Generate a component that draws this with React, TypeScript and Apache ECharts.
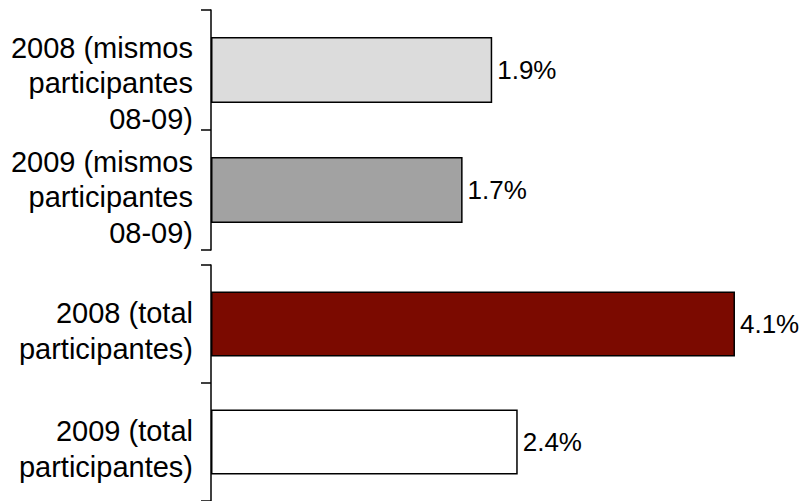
import React, { useEffect, useRef } from "react";
import * as echarts from "echarts";

const topCategories = [
  "2008 (mismos\nparticipantes\n08-09)",
  "2009 (mismos\nparticipantes\n08-09)",
];
const topValues = [1.9, 1.7];
const topColors = ["#DCDCDC", "#A2A2A2"];

const bottomCategories = [
  "2008 (total\nparticipantes)",
  "2009 (total\nparticipantes)",
];
const bottomValues = [4.1, 2.4];
const bottomColors = ["#7B0A00", "#FFFFFF"];

const FONT = "Liberation Sans, Arial, sans-serif";

export default function App() {
  const ref = useRef<HTMLDivElement>(null);
  useEffect(() => {
    if (!ref.current) return;
    const chart = echarts.init(ref.current, undefined, { renderer: "svg" });
    const spacerTop = ["a", "b"];
    const spacerBottom = ["b", "b"];
    const catAxis = (gridIndex: number, cats: string[], spacers: string[]) => ({
      type: "category",
      gridIndex,
      inverse: true,
      data: cats,
      axisLine: { show: true, lineStyle: { color: "#000", width: 1.5 } },
      axisTick: { show: true, length: 10, lineStyle: { color: "#000", width: 1.5 } },
      axisLabel: {
        interval: 0,
        hideOverlap: false,
        margin: 18,
        color: "#000",
        fontSize: 29,
        lineHeight: 35.5,
        fontFamily: FONT,
        align: "right",
        formatter: (v: string) => {
          const i = cats.indexOf(v);
          return "{" + spacers[i] + "| }\n" + v;
        },
        rich: {
          a: { fontSize: 1, lineHeight: 26 },
          b: { fontSize: 1, lineHeight: 14 },
        },
      },
    });
    const valAxis = (gridIndex: number, max: number) => ({
      type: "value",
      gridIndex,
      min: 0,
      max,
      show: false,
      splitLine: { show: false },
    });
    const barSeries = (idx: number, vals: number[], colors: string[]) => ({
      type: "bar",
      xAxisIndex: idx,
      yAxisIndex: idx,
      barCategoryGap: "45%",
      data: vals.map((v, i) => ({
        value: v,
        itemStyle: { color: colors[i], borderColor: "#000", borderWidth: 1.5 },
      })),
      label: {
        show: true,
        position: "right",
        distance: 5,
        color: "#000",
        fontSize: 26,
        fontFamily: FONT,
        formatter: (p: any) => p.value.toFixed(1) + "%",
      },
    });
    chart.setOption({
      animation: false,
      backgroundColor: "#fff",
      grid: [
        { left: 211, top: 10, width: 580, height: 240 },
        { left: 211, top: 265, width: 580, height: 240 },
      ],
      xAxis: [valAxis(0, 580 / 148), valAxis(1, 580 / 127.8)],
      yAxis: [
        catAxis(0, topCategories, spacerTop),
        catAxis(1, bottomCategories, spacerBottom),
      ],
      series: [
        barSeries(0, topValues, topColors),
        barSeries(1, bottomValues, bottomColors),
      ],
    });
    return () => chart.dispose();
  }, []);
  return (
    <div
      ref={ref}
      style={{ position: "fixed", left: 0, top: 0, width: 801, height: 501 }}
    />
  );
}
